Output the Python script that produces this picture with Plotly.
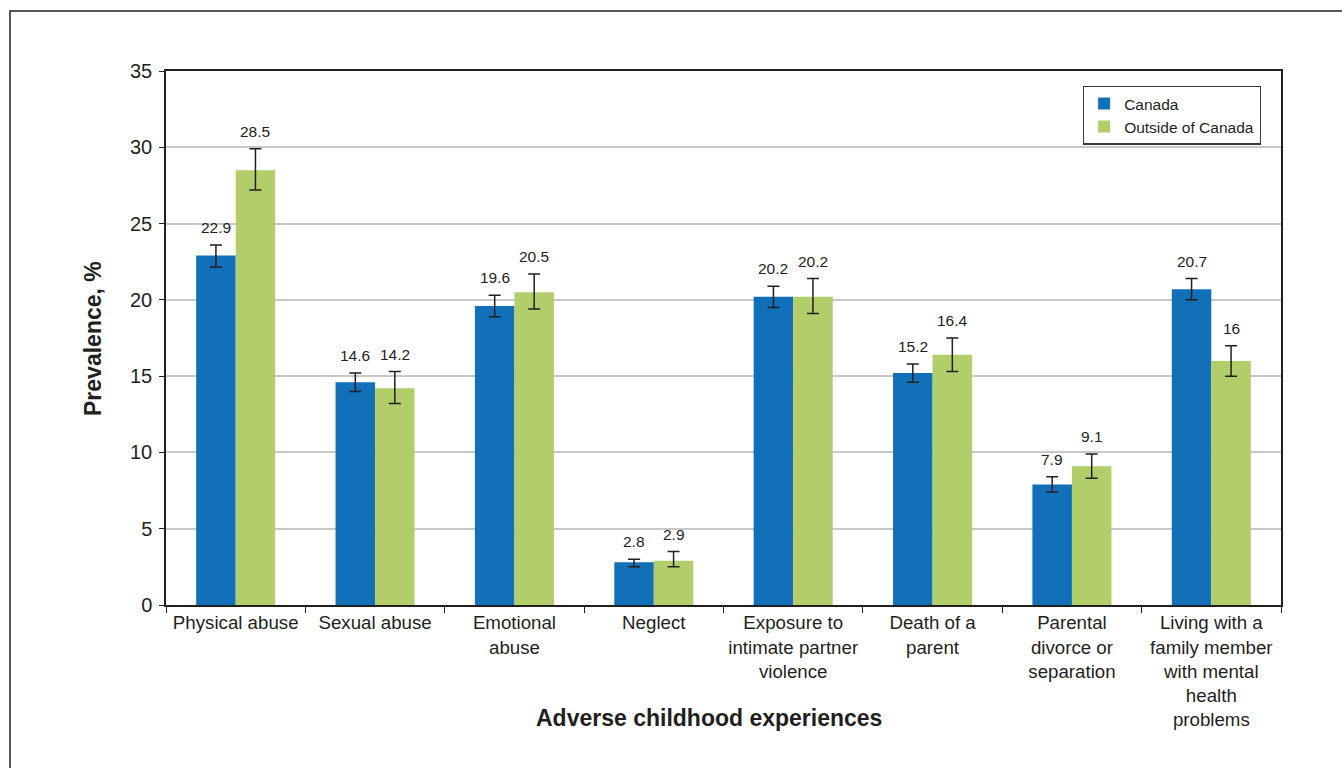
import plotly.graph_objects as go

categories = ["Physical abuse", "Sexual abuse", "Emotional<br>abuse", "Neglect",
              "Exposure to<br>intimate partner<br>violence", "Death of a<br>parent",
              "Parental<br>divorce or<br>separation",
              "Living with a<br>family member<br>with mental<br>health<br>problems"]
canada = [22.9, 14.6, 19.6, 2.8, 20.2, 15.2, 7.9, 20.7]
canada_err_plus = [0.7, 0.6, 0.7, 0.2, 0.7, 0.6, 0.5, 0.7]
canada_err_minus = [0.75, 0.6, 0.7, 0.3, 0.7, 0.6, 0.5, 0.7]
canada_labels = ["22.9", "14.6", "19.6", "2.8", "20.2", "15.2", "7.9", "20.7"]
outside = [28.5, 14.2, 20.5, 2.9, 20.2, 16.4, 9.1, 16.0]
outside_err_plus = [1.4, 1.1, 1.2, 0.6, 1.2, 1.1, 0.8, 1.0]
outside_err_minus = [1.3, 1.0, 1.1, 0.4, 1.1, 1.1, 0.8, 1.0]
outside_labels = ["28.5", "14.2", "20.5", "2.9", "20.2", "16.4", "9.1", "16"]
y_ticks = [0, 5, 10, 15, 20, 25, 30, 35]

FONT = "Liberation Sans, Arial, Helvetica, sans-serif"
TXT = "#231f20"
BLUE = "#1170b8"
GREEN = "#b1ce6b"

fig = go.Figure()
err_style = dict(type="data", symmetric=False, color=TXT, thickness=1.5, width=6)
fig.add_trace(go.Bar(name="Canada", x=categories, y=canada, marker_color=BLUE,
                     marker_line_width=0,
                     error_y=dict(array=canada_err_plus, arrayminus=canada_err_minus, **err_style)))
fig.add_trace(go.Bar(name="Outside of Canada", x=categories, y=outside, marker_color=GREEN,
                     marker_line_width=0,
                     error_y=dict(array=outside_err_plus, arrayminus=outside_err_minus, **err_style)))

annotations = []
for cat, v, e, lab in zip(categories, canada, canada_err_plus, canada_labels):
    annotations.append(dict(x=cat, y=v + e, text=lab, showarrow=False, xref="x", yref="y",
                            xshift=-19.8, yshift=7, yanchor="bottom",
                            font=dict(family=FONT, size=15.5, color=TXT)))
for cat, v, e, lab in zip(categories, outside, outside_err_plus, outside_labels):
    annotations.append(dict(x=cat, y=v + e, text=lab, showarrow=False, xref="x", yref="y",
                            xshift=19.8, yshift=7, yanchor="bottom",
                            font=dict(family=FONT, size=15.5, color=TXT)))
# axis titles
annotations.append(dict(x=0.487, y=-0.212, xref="paper", yref="paper", showarrow=False,
                        text="<b>Adverse childhood experiences</b>", yanchor="middle",
                        font=dict(family=FONT, size=23, color=TXT)))
annotations.append(dict(x=-0.0655, y=0.5, xref="paper", yref="paper", showarrow=False,
                        text="<b>Prevalence, %</b>", textangle=-90, xanchor="center",
                        font=dict(family=FONT, size=23, color=TXT)))

fig.update_layout(
    width=1342, height=768,
    margin=dict(l=166, r=61, t=71, b=163),
    paper_bgcolor="white", plot_bgcolor="white",
    barmode="group", bargap=0.433, bargroupgap=0,
    font=dict(family=FONT, color=TXT),
    showlegend=True,
    legend=dict(x=0.982, y=0.9725, xanchor="right", yanchor="top",
                bordercolor="#3a3a3a", borderwidth=1.2, bgcolor="white",
                font=dict(family=FONT, size=15.5, color=TXT),
                itemwidth=30, tracegroupgap=0),
    annotations=annotations,
    shapes=[dict(type="rect", xref="paper", yref="paper",
                 x0=-0.1399, x1=1.2, y0=-0.5, y1=1.1124,
                 line=dict(color=TXT, width=1.5), fillcolor="rgba(0,0,0,0)", layer="below")],
)
fig.update_xaxes(showline=True, linecolor=TXT, linewidth=1.5, mirror=True,
                 ticks="outside", tickson="boundaries", ticklen=6, tickcolor=TXT, tickwidth=1.2,
                 tickfont=dict(family=FONT, size=18.7, color=TXT), showgrid=False)
fig.update_yaxes(range=[0, 35], tickvals=y_ticks, showline=True, linecolor=TXT, linewidth=1.5,
                 mirror=True, ticks="outside", ticklen=5, tickcolor=TXT, tickwidth=1.2,
                 ticklabelstandoff=3,
                 tickfont=dict(family=FONT, size=20, color=TXT),
                 showgrid=True, gridcolor="#c8c8c8", gridwidth=2, zeroline=False)

fig.write_html("out.html")
